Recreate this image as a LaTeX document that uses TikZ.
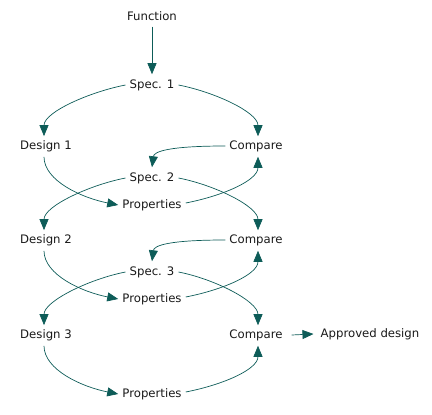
\documentclass[tikz,border=0pt]{standalone}
\usepackage{fontspec}
\setmainfont{DejaVu Sans}
\usetikzlibrary{arrows.meta}
\definecolor{arr}{HTML}{0D5C58}
\begin{document}
\begin{tikzpicture}[x=1pt,y=-1pt,
  lbl/.style={font=\fontsize{11.7}{13}\selectfont, inner sep=0pt, text=black!90},
  con/.style={draw=arr, line width=0.7pt, -{Triangle[length=11pt,width=9pt]}}]
\useasboundingbox (0,0) rectangle (432,415);
\node[lbl] (fn) at (152,16) {Function};
\node[lbl] (s1) at (152,85) {Spec. 1};
\node[lbl] (d1) at (46,146) {Design 1};
\node[lbl] (c1) at (256,146) {Compare};
\node[lbl] (s2) at (152,178) {Spec. 2};
\node[lbl] (p1) at (152,205) {Properties};
\node[lbl] (d2) at (46,240) {Design 2};
\node[lbl] (c2) at (256,240) {Compare};
\node[lbl] (s3) at (152,272) {Spec. 3};
\node[lbl] (p2) at (152,299) {Properties};
\node[lbl] (d3) at (46,335) {Design 3};
\node[lbl] (c3) at (256,335) {Compare};
\node[lbl] (ap) at (370,334) {Approved design};
\node[lbl] (p3) at (152,394) {Properties};
% straight
\draw[con] ([yshift=-6pt]fn.south) -- ([yshift=5pt]s1.north);
\draw[con] ([xshift=9pt]c3.east) -- ([xshift=-7pt]ap.west);
% spec to design / compare
\foreach \s/\d/\c in {s1/d1/c1, s2/d2/c2, s3/d3/c3}{
  \draw[con] ([xshift=-4pt]\s.west) .. controls +(-36,7) and +(0,-24) .. ([xshift=-2pt,yshift=4pt]\d.north);
  \draw[con] ([xshift=4pt]\s.east) .. controls +(36,7) and +(0,-24) .. ([xshift=2pt,yshift=4pt]\c.north);
}
% compare back to next spec
\foreach \c/\s in {c1/s2, c2/s3}{
  \draw[con] ([xshift=-4pt]\c.west) .. controls +(-55,0) and +(2,-16) .. ([yshift=5pt]\s.north);
}
% design to properties and properties to compare
\foreach \d/\p/\c in {d1/p1/c1, d2/p2/c2, d3/p3/c3}{
  \draw[con] ([xshift=-2pt,yshift=-5pt]\d.south) .. controls +(0,24) and +(-36,-7) .. ([xshift=-4pt]\p.west);
  \draw[con] ([xshift=4pt,yshift=2pt]\p.east) .. controls +(36,-7) and +(0,24) .. ([xshift=2pt,yshift=-5pt]\c.south);
}
\end{tikzpicture}
\end{document}
